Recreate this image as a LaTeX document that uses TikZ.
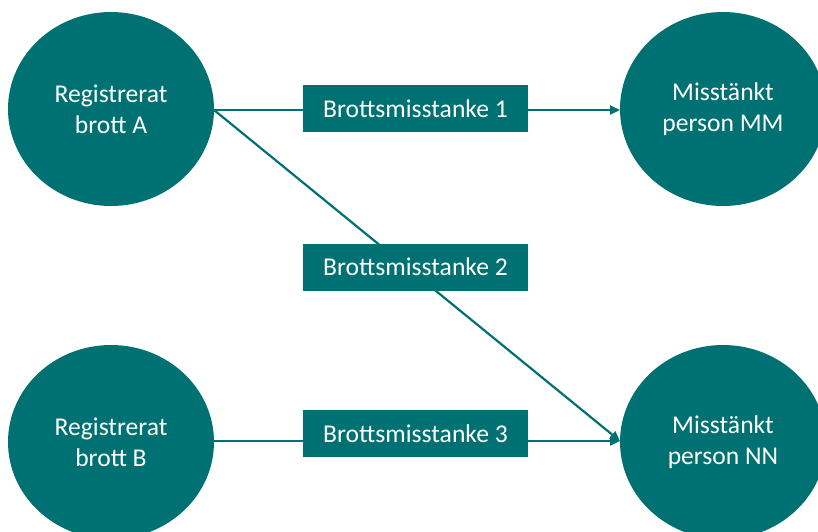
\documentclass[tikz,border=0pt]{standalone}
\usepackage{fontspec}
\setmainfont{Carlito}
\usetikzlibrary{arrows.meta,shapes.geometric}
\definecolor{teal}{HTML}{007172}
\begin{document}
\begin{tikzpicture}[x=1pt,y=-1pt,
  blob/.style={ellipse,fill=teal,draw=none,minimum width=206pt,minimum height=194pt,inner sep=0pt,text=white,align=center,font=\fontsize{25.6}{31}\selectfont},
  label/.style={rectangle,fill=teal,draw=none,minimum width=225pt,minimum height=47pt,inner sep=0pt,text=white,font=\fontsize{25.6}{31}\selectfont},
  conn/.style={draw=teal,line width=2.2pt},
  tip/.style={-{Triangle[length=10pt,width=9pt]}}]
\useasboundingbox (0,0) rectangle (818,531);
\node[blob] (A) at (111,109) {Registrerat\\brott A};
\node[blob] (B) at (111,442) {Registrerat\\brott B};
\node[blob] (MM) at (723,109) {Misstänkt\\person MM};
\node[blob] (NN) at (723,442) {Misstänkt\\person NN};
\coordinate (Aout) at (214,110);
\coordinate (Bout) at (214,441);
\coordinate (MMin) at (620,110);
\coordinate (NNin) at (620,441);
\draw[conn,tip] (Aout) -- (MMin);
\draw[conn,tip] (Aout) -- (NNin);
\draw[conn,tip] (Bout) -- (NNin);
\node[label] (L1) at (415.5,108.5) {Brottsmisstanke 1};
\node[label] (L2) at (415.5,267) {Brottsmisstanke 2};
\node[label] (L3) at (415.5,433.5) {Brottsmisstanke 3};
\end{tikzpicture}
\end{document}
